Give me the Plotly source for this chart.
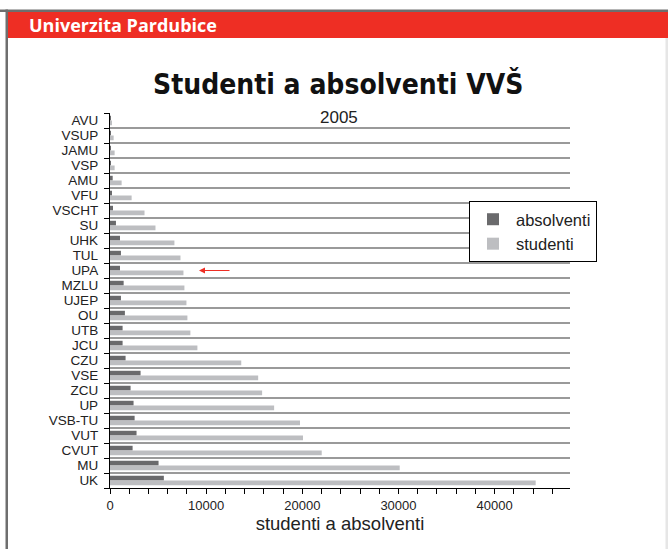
import plotly.graph_objects as go

schools = ["AVU", "VSUP", "JAMU", "VSP", "AMU", "VFU", "VSCHT", "SU", "UHK", "TUL",
           "UPA", "MZLU", "UJEP", "OU", "UTB", "JCU", "CZU", "VSE", "ZCU", "UP",
           "VSB-TU", "VUT", "CVUT", "MU", "UK"]
absolventi = [30, 40, 100, 30, 280, 180, 310, 620, 1040, 1140,
              1040, 1420, 1140, 1550, 1310, 1310, 1620, 3180, 2140, 2450,
              2560, 2760, 2350, 5050, 5600]
studenti = [200, 380, 480, 480, 1210, 2250, 3590, 4730, 6700, 7330,
            7640, 7740, 7950, 8050, 8360, 9090, 13650, 15410, 15820, 17070,
            19760, 20070, 22020, 30130, 44270]
x_ticks = [0, 10000, 20000, 30000, 40000]

W, H = 668, 549
L, R, T, B = 110, 98, 113, 61
pw, ph = W - L - R, H - T - B


def px(x):
    return (x - L) / pw


def py(y):
    return (H - B - y) / ph


dark = "#6a6a6c"
light = "#bdbec1"
red = "#ee2e24"

fig = go.Figure()
fig.add_trace(go.Bar(y=schools, x=absolventi, orientation="h", name="absolventi",
                     marker=dict(color=dark, line=dict(width=0))))
fig.add_trace(go.Bar(y=schools, x=studenti, orientation="h", name="studenti",
                     marker=dict(color=light, line=dict(width=0))))

font = "Liberation Sans, Arial, sans-serif"

fig.update_layout(
    width=W, height=H,
    margin=dict(l=L, r=R, t=T, b=B, pad=0),
    paper_bgcolor="white", plot_bgcolor="white",
    barmode="group", bargap=0.37, bargroupgap=0,
    font=dict(family=font, color="#222222", size=13),
    showlegend=True,
    legend=dict(x=px(469), y=py(201), xanchor="left", yanchor="top",
                bordercolor="black", borderwidth=1, bgcolor="white",
                font=dict(size=16.5, family=font, color="#222"),
                traceorder="normal", itemwidth=36, tracegroupgap=0),
    xaxis=dict(range=[0, 47840], tickvals=x_ticks, tickformat="d", ticks="outside", ticklen=5,
               tickcolor="black", tickwidth=1, showline=True, linecolor="black",
               linewidth=1, showgrid=False, zeroline=False,
               tickfont=dict(size=13, family=font, color="#222"),
               minor=dict(dtick=2000, tick0=0, ticks="outside", ticklen=5,
                          tickcolor="black", showgrid=False),
               title=dict(text="studenti a absolventi", standoff=4,
                          font=dict(size=18.5, family=font, color="#222"))),
    yaxis=dict(type="category", categoryorder="array", categoryarray=schools,
               tickmode="array", tickvals=schools, ticktext=schools,
               autorange="reversed", tickson="boundaries", ticks="outside",
               ticklen=5, tickcolor="black", showline=True, linecolor="black",
               linewidth=1.3, showgrid=True, gridcolor="#9a9a9a", gridwidth=1.5,
               ticklabelstandoff=8,
               tickfont=dict(size=13.5, family=font, color="#222")),
)

shapes = [
    # gray frame top and left
    dict(type="rect", xref="paper", yref="paper", x0=px(0), x1=px(W + 2),
         y0=py(12), y1=py(9.5), fillcolor="#6e6e6e", line=dict(width=0), layer="above"),
    dict(type="rect", xref="paper", yref="paper", x0=px(5.5), x1=px(8),
         y0=py(H + 2), y1=py(9.5), fillcolor="#6e6e6e", line=dict(width=0), layer="above"),
    # red header
    dict(type="rect", xref="paper", yref="paper", x0=px(8), x1=px(W + 2),
         y0=py(38), y1=py(12), fillcolor=red, line=dict(width=0), layer="above"),
    # right light border
    dict(type="rect", xref="paper", yref="paper", x0=px(665.5), x1=px(W + 2),
         y0=py(H + 2), y1=py(38), fillcolor="#e6e6e6", line=dict(width=0), layer="above"),
]
fig.update_layout(shapes=shapes)

annotations = [
    dict(text="<b>Univerzita Pardubice</b>", xref="paper", yref="paper",
         x=px(27), y=py(25), xanchor="left", yanchor="middle", showarrow=False,
         font=dict(size=18, color="white", family="Open Sans, Liberation Sans, sans-serif")),
    dict(text="<b>Studenti a absolventi VVŠ</b>", xref="paper", yref="paper",
         x=px(338), y=py(84), xanchor="center", yanchor="middle", showarrow=False,
         font=dict(size=28, color="#111111",
                   family="DejaVu Sans Condensed, DejaVu Sans, sans-serif")),
    dict(text="2005", xref="paper", yref="paper",
         x=px(339), y=py(117), xanchor="center", yanchor="middle", showarrow=False,
         font=dict(size=17, color="#222", family=font)),
    dict(text="", x=9256, y="UPA", xref="x", yref="y", showarrow=True,
         ax=32, ay=0, arrowhead=2, arrowsize=1, arrowwidth=1.2, arrowcolor=red),
]
fig.update_layout(annotations=annotations)

fig.write_html("out.html", config={"displayModeBar": False},
               post_script="document.body.style.margin='0';document.body.style.overflow='hidden';")
